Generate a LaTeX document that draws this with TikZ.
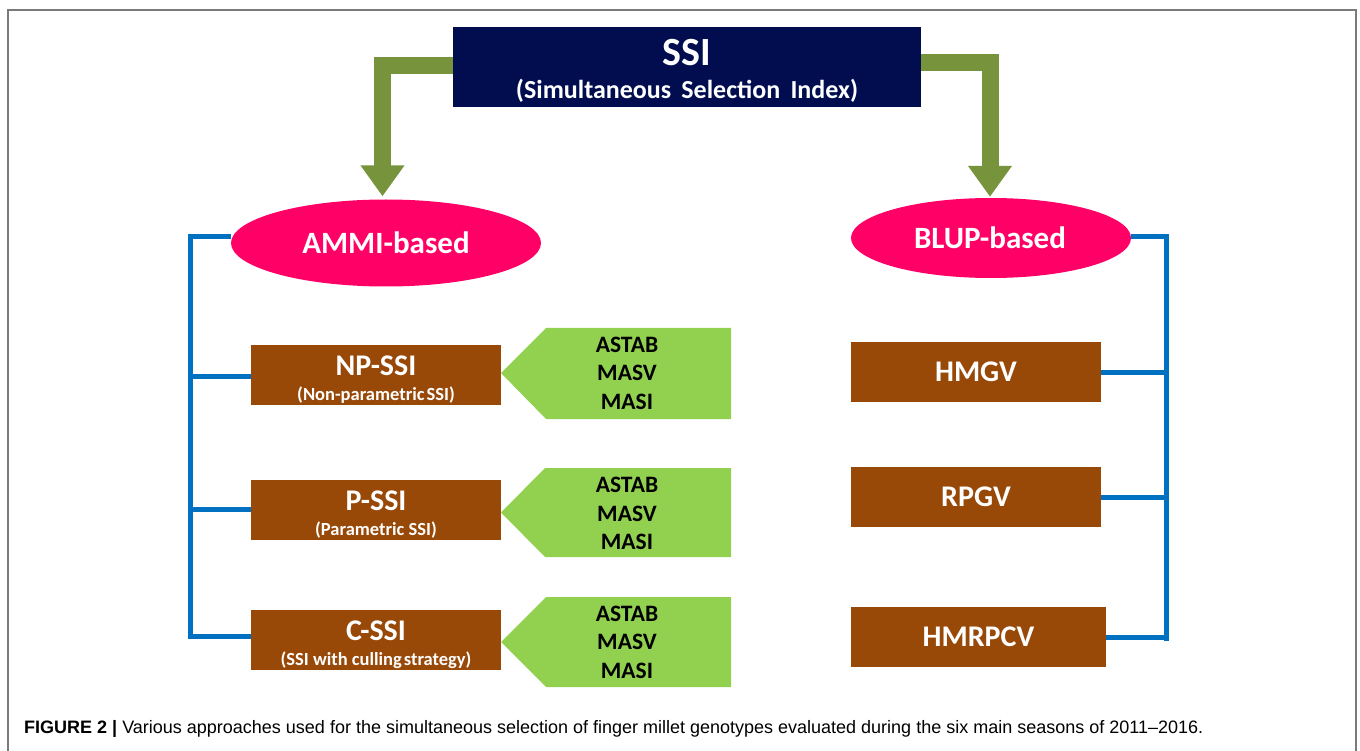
\documentclass[tikz,border=0pt]{standalone}
\usepackage{fontspec}
\setmainfont{Carlito}
\newfontfamily\capfont{Liberation Sans}
\usetikzlibrary{arrows.meta,shapes.geometric}
\definecolor{navy}{HTML}{020D50}
\definecolor{olive}{HTML}{77933C}
\definecolor{pinkc}{HTML}{FF0066}
\definecolor{bluec}{HTML}{0070C0}
\definecolor{brownc}{HTML}{984807}
\definecolor{greenc}{HTML}{92D050}
\definecolor{frameg}{HTML}{7A7A7A}
\tikzset{
  bbox/.style={fill=brownc, draw=none, minimum width=250pt, minimum height=60pt, inner sep=0pt},
  ell/.style={ellipse, fill=pinkc, draw=none, inner sep=0pt},
  wtxt/.style={text=white, font=\bfseries, inner sep=0pt},
  ttl/.style={wtxt, font=\bfseries\fontsize{30}{30}\selectfont},
  sub/.style={wtxt, font=\bfseries\fontsize{18.5}{18.5}\selectfont},
  btxt/.style={text=black, font=\bfseries\fontsize{23.5}{28.5}\selectfont, align=center, inner sep=0pt},
  garrow/.style={draw=olive, line width=17pt, line join=miter, -{Triangle[width=42pt,length=31pt]}},
  bline/.style={draw=bluec, line width=5pt, line join=miter},
}
\begin{document}
\begin{tikzpicture}[x=1pt,y=-1pt]
\useasboundingbox (0,0) rectangle (1360,751);
% frame
\draw[frameg, line width=2pt] (8,751) -- (8,10) -- (1356,10) -- (1356,751);
% SSI
\node[fill=navy, minimum width=468pt, minimum height=80pt, inner sep=0pt] (ssi) at (687,67) {};
\node[wtxt, font=\bfseries\fontsize{40}{40}\selectfont] (ssit) at (687,53) {SSI};
\node[wtxt, font=\bfseries\fontsize{26}{26}\selectfont] (ssis) at (687,91) {(Simultaneous\, Selection\, Index)};
% ellipses
\node[ell, minimum width=310pt, minimum height=87pt] (ammi) at (386,243) {};
\node[wtxt, font=\bfseries\fontsize{31}{31}\selectfont] (ammit) at (386,243) {AMMI-based};
\node[ell, minimum width=280pt, minimum height=80pt] (blup) at (991,238) {};
\node[wtxt, font=\bfseries\fontsize{31}{31}\selectfont] (blupt) at (990,238) {BLUP-based};
% olive arrows
\draw[garrow] ([yshift=1.5pt]ssi.west) -| ([xshift=-3.5pt,yshift=3pt]ammi.north);
\draw[garrow] ([yshift=4pt]ssi.east) -| ([xshift=-1pt,yshift=1pt]blup.north);
% left brown boxes
\node[bbox] (np) at (376,374.5) {};
\node[ttl] (npt) at (376,366) {NP-SSI};
\node[sub] (nps) at (376,395) {(Non-parametric\kern2pt SSI)};
\node[bbox] (ps) at (376,509.5) {};
\node[ttl] (pst) at (376,501) {P-SSI};
\node[sub] (pss) at (376,530) {(Parametric SSI)};
\node[bbox] (cs) at (376,639.5) {};
\node[ttl] (cst) at (376,631) {C-SSI};
\node[sub] (css) at (376,660) {(SSI with culling\kern2pt strategy)};
% green shapes
\fill[greenc] (501,373) -- (546,328) -- (731,328) -- (731,419) -- (546,419) -- cycle;
\node[btxt] (g1) at (627,373) {ASTAB\\MASV\\MASI};
\fill[greenc] (501,512.5) -- (545,468) -- (731,468) -- (731,557) -- (545,557) -- cycle;
\node[btxt] (g2) at (627,513.5) {ASTAB\\MASV\\MASI};
\fill[greenc] (501,642) -- (546,597) -- (731,597) -- (731,687) -- (546,687) -- cycle;
\node[btxt] (g3) at (627,642) {ASTAB\\MASV\\MASI};
% right brown boxes
\node[bbox] (hmgv) at (976,372) {};
\node[ttl] (hmgvt) at (976,372) {HMGV};
\node[bbox] (rpgv) at (976,497) {};
\node[ttl] (rpgvt) at (976,497) {RPGV};
\node[bbox, minimum width=255pt] (hmr) at (978.5,637) {};
\node[ttl] (hmrt) at (978.5,637) {HMRPCV};
% blue brackets
\coordinate (lt) at (190.5,236.5);
\draw[bline] (ammi.west |- lt) -- (lt) |- ([yshift=3.5pt]cs.west);
\draw[bline] ([yshift=-1.5pt]np.west) -- ([yshift=-1.5pt]np.west -| lt);
\draw[bline] (ps.west) -- (ps.west -| lt);
\coordinate (rt) at (1166,236.5);
\draw[bline] (blup.east |- rt) -- (rt) -- ([yshift=-4pt]rt |- hmr.east);
\draw[bline] (hmgv.east) -- (hmgv.east -| rt);
\draw[bline] (rpgv.east) -- (rpgv.east -| rt);
\draw[bline] (hmr.east) -- (hmr.east -| rt);
% caption
\node[anchor=base west, inner sep=0pt, font=\capfont\fontsize{18}{20}\selectfont] (cap) at (24,733) {\textbf{FIGURE 2 |} Various approaches used for the simultaneous selection of finger millet genotypes evaluated during the six main seasons of 2011\textendash 2016.};
\end{tikzpicture}
\end{document}
